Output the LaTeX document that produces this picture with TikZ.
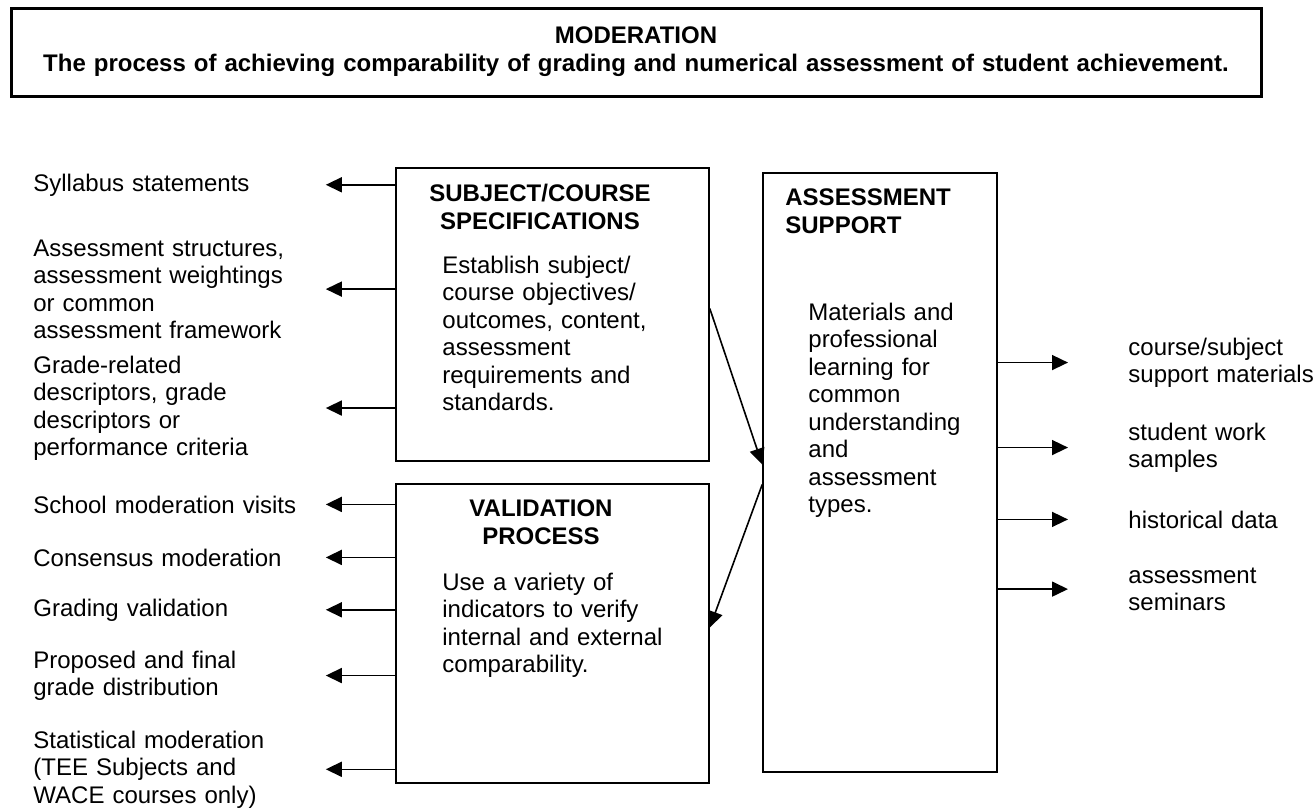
\documentclass[tikz,border=0pt]{standalone}
\usepackage{fontspec}
\setmainfont{Liberation Sans}
\usepackage{tikz}
\usetikzlibrary{arrows.meta}

\tikzset{
  box/.style={draw, line width=0.8pt, inner sep=0pt},
  txt/.style={inner sep=0pt, align=left, font=\fontsize{12}{13.75}\selectfont},
  head/.style={inner sep=0pt, font=\fontsize{12}{14}\selectfont\bfseries},
  lbl/.style={txt, text width=146pt, anchor=base west},
  rlbl/.style={txt, text width=95pt, anchor=base west},
  arr/.style={line width=0.8pt, -{Triangle[length=8pt,width=7.5pt]}}
}

\begin{document}
\begin{tikzpicture}[x=0.5pt, y=-0.5pt]
\useasboundingbox (0,0) rectangle (1316,808);
                    % Nodes
                    \node[draw, line width=1.5pt, minimum width=625pt, minimum height=44pt, inner sep=0pt] (top) at (636,53) {};
                    \node[head, text width=620pt, align=center, anchor=base] (title) at (636,43.5) {MODERATION\\The process of achieving comparability of grading and numerical assessment of student achievement.};

                    \node[box, minimum width=156.5pt, minimum height=146.5pt] (spec) at (552.5,314.5) {};
                    \node[box, minimum width=156.5pt, minimum height=149.5pt] (val) at (552.5,633.5) {};
                    \node[box, minimum width=117pt, minimum height=299.5pt] (sup) at (880,472.5) {};

                    \node[head, text width=130pt, align=center, anchor=base] (specHead) at (540,201.5) {SUBJECT/COURSE\\SPECIFICATIONS};
                    \node[txt, text width=125pt, anchor=base west] (specBody) at (442,273) {Establish subject/\\course objectives/\\outcomes, content,\\assessment\\requirements and\\standards.};
                    \node[head, text width=130pt, align=center, anchor=base] (valHead) at (541,516.5) {VALIDATION\\PROCESS};
                    \node[txt, text width=125pt, anchor=base west] (valBody) at (442,590) {Use a variety of\\indicators to verify\\internal and external\\comparability.};
                    \node[head, text width=100pt, align=left, anchor=base west] (supHead) at (785,205.5) {ASSESSMENT\\SUPPORT};
                    \node[txt, text width=90pt, anchor=base west] (supBody) at (808,320) {Materials and\\professional\\learning for\\common\\understanding\\and\\assessment\\types.};

                    \node[lbl] (syl) at (33,191) {Syllabus statements};
                    \node[lbl] (struct) at (33,256) {Assessment structures,\\assessment weightings\\or common\\assessment framework};
                    \node[lbl] (grd) at (33,373) {Grade-related\\descriptors, grade\\descriptors or\\performance criteria};
                    \node[lbl] (visit) at (33,513) {School moderation visits};
                    \node[lbl] (cons) at (33,566) {Consensus moderation};
                    \node[lbl] (gval) at (33,616) {Grading validation};
                    \node[lbl] (dist) at (33,668) {Proposed and final\\grade distribution};
                    \node[lbl] (stat) at (33,748) {Statistical moderation\\(TEE Subjects and\\WACE courses only)};

                    \node[rlbl] (mat) at (1128,355) {course/subject\\support materials};
                    \node[rlbl] (work) at (1128,440) {student work\\samples};
                    \node[rlbl] (hist) at (1128,528) {historical data};
                    \node[rlbl] (sem) at (1128,583) {assessment\\seminars};

                    % Edges
                    \draw[arr] (spec.west |- syl.east) -- (syl.east);
                    \draw[arr] (spec.west |- struct.east) -- (struct.east);
                    \draw[arr] (spec.west |- grd.east) -- (grd.east);
                    \draw[arr] (val.west |- visit.east) -- (visit.east);
                    \draw[arr] (val.west |- cons.east) -- (cons.east);
                    \draw[arr] (val.west |- gval.east) -- (gval.east);
                    \draw[arr] (val.west |- dist.east) -- (dist.east);
                    \draw[arr] (val.west |- stat.east) -- (stat.east);

                    \draw[arr] ([yshift=3pt]spec.east) -- ([yshift=4pt]sup.west);
                    \draw[arr] ([yshift=-6pt]sup.west) -- ([yshift=3pt]val.east);

                    \draw[arr, shorten >=30pt] (sup.east |- mat.west) -- (mat.west);
                    \draw[arr, shorten >=30pt] (sup.east |- work.west) -- (work.west);
                    \draw[arr, shorten >=30pt] (sup.east |- hist.west) -- (hist.west);
                    \draw[arr, shorten >=30pt] (sup.east |- sem.west) -- (sem.west);
\end{tikzpicture}
\end{document}
